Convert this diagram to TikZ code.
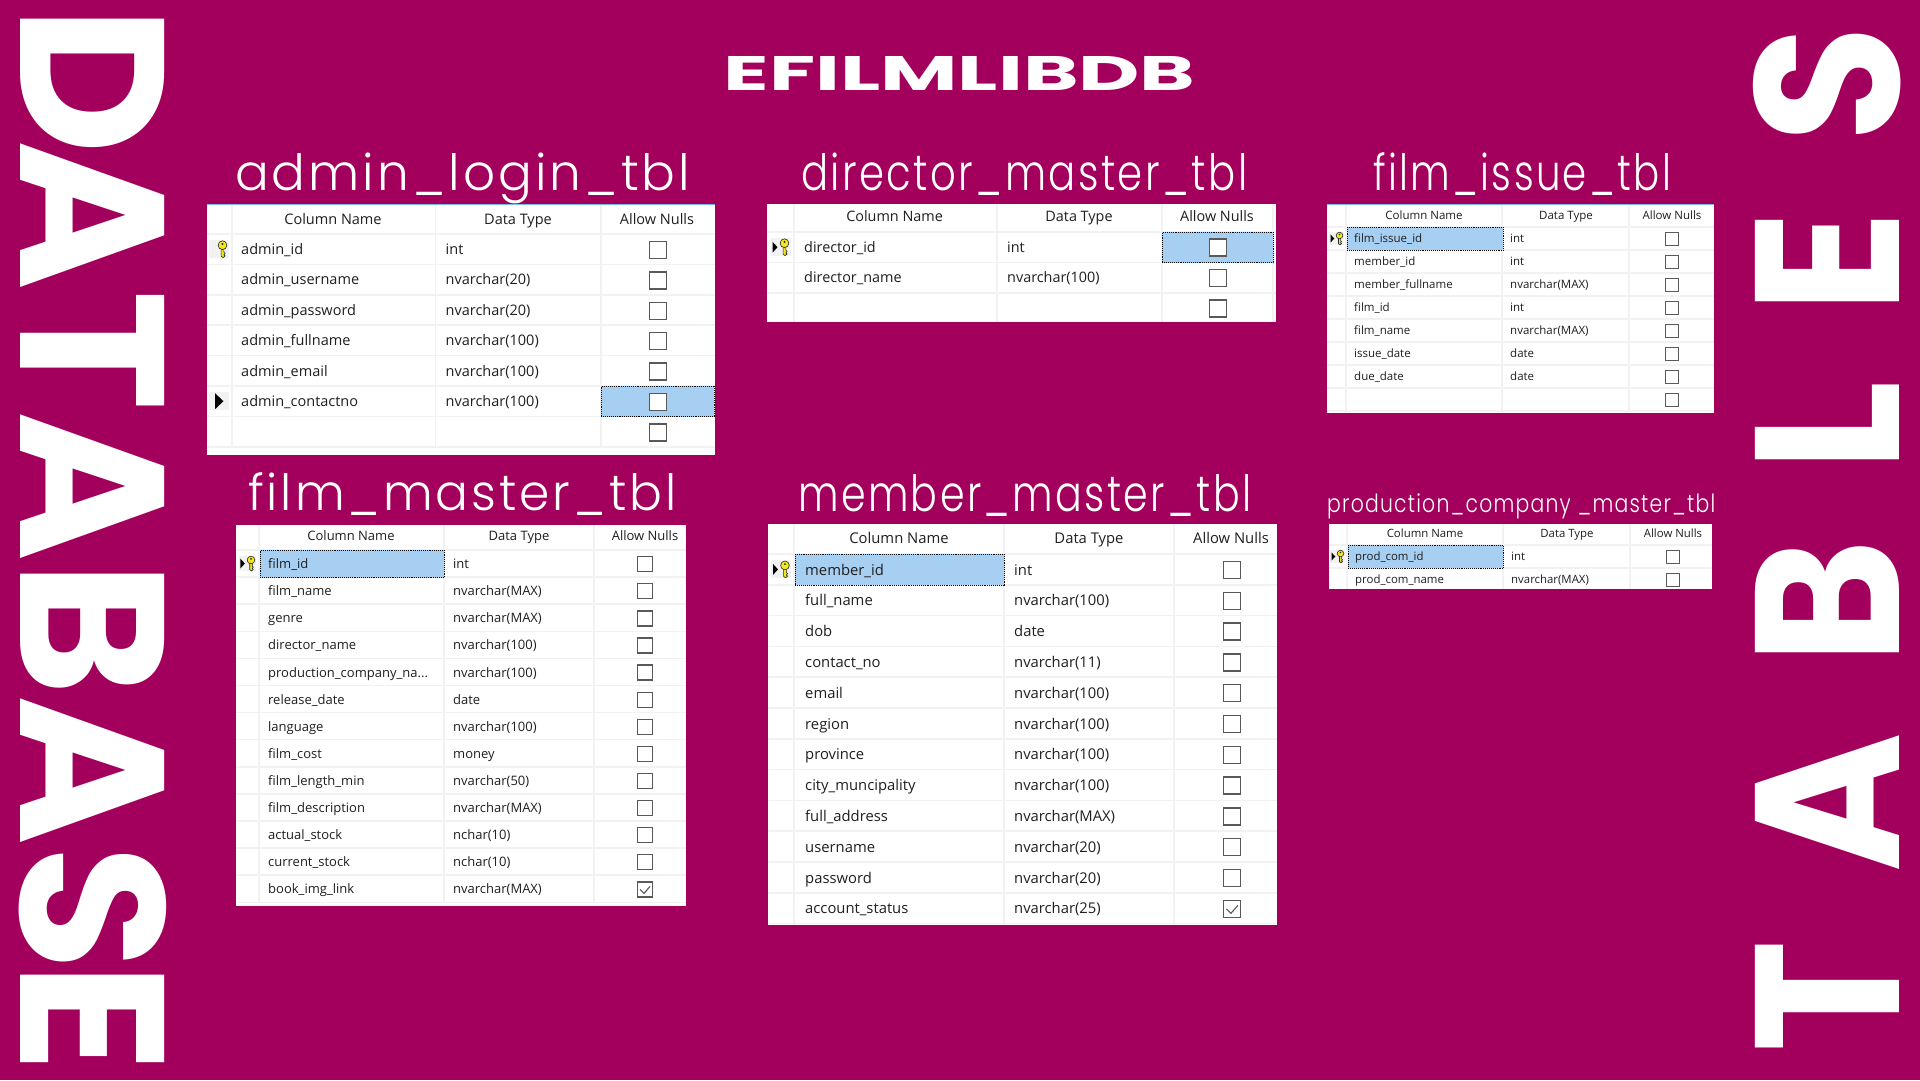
\documentclass[tikz,border=0pt]{standalone}
\usepackage{fontspec}
\usepackage{graphicx}
\usepackage{xcolor}
\usetikzlibrary{calc}
\setmainfont{Poppins}
\newfontfamily\tablefamily{Open Sans}
\newfontfamily\headfamily[LetterSpace=6]{Poppins Light}
\newfontfamily\spacedfamily[LetterSpace=36]{Poppins}
\definecolor{pagebg}{HTML}{A3005E}
\definecolor{selblue}{HTML}{A6CFF2}
\definecolor{gridgray}{HTML}{F2F2F2}
\definecolor{topblue}{HTML}{7DBBE8}
\definecolor{keyyellow}{HTML}{F2E81E}
\newcommand{\tblfont}[1]{\tablefamily\fontsize{#1}{#1}\selectfont}
\tikzset{
    tblbg/.style={fill=white, anchor=north west, inner sep=0pt},
    gridline/.style={draw=gridgray, line width=1.5pt},
    topline/.style={draw=topblue, line width=1pt},
    selcell/.style={fill=selblue, draw=black, densely dotted, line width=.9pt, anchor=north west, inner sep=0pt},
    chkbox/.style={draw=black!65, fill=white, line width=1.3pt, inner sep=0pt},
    tickmark/.style={draw=black!65, line width=1.1pt},
    rowtext/.style={anchor=base west, inner sep=0pt, text=black!88},
    hdrtext/.style={anchor=base, inner sep=0pt, text=black!88},
    tblhead/.style={anchor=base west, inner sep=0pt, text=white, font=\headfamily\fontsize{50}{50}\selectfont},
    sidetext/.style={inner sep=0pt, text=white},
    keymark/.pic={
        \fill[gridgray] (-10,-9) rectangle (10,9);
        \draw[fill=keyyellow, draw=black!85, line width=.6pt] (2.6,-2) -- (2.6,7) -- (4.6,8.4) -- (6.6,6.8) -- (5.4,5.6) -- (6.6,4.2) -- (5.4,3) -- (5.4,-2) -- cycle;
        \draw[fill=keyyellow, draw=black!85, line width=.6pt] (4,-4) circle (4.4pt);
        \fill[black!85] (4,-5.3) circle (1.1pt);
    },
    arrowmark/.pic={
        \fill[gridgray] (-10,-9) rectangle (10,9);
        \fill[black] (-3.5,-8) -- (5,0) -- (-3.5,8) -- cycle;
    },
    bothmark/.pic={
        \fill[gridgray] (-10,-9) rectangle (10,9);
        \fill[black] (-8,-5.5) -- (-3,0) -- (-8,5.5) -- cycle;
        \draw[fill=keyyellow, draw=black!85, line width=.6pt] (2.6,-2) -- (2.6,7) -- (4.6,8.4) -- (6.6,6.8) -- (5.4,5.6) -- (6.6,4.2) -- (5.4,3) -- (5.4,-2) -- cycle;
        \draw[fill=keyyellow, draw=black!85, line width=.6pt] (4,-4) circle (4.4pt);
        \fill[black!85] (4,-5.3) circle (1.1pt);
    }
}
\begin{document}
\begin{tikzpicture}[x=1pt, y=-1pt]
    \fill[pagebg] (0,0) rectangle (1920,1080);
    \useasboundingbox (0,0) rectangle (1920,1080);

    % title and the two side words
    \node[sidetext] (title) at (959.5,73) {\resizebox{472pt}{34pt}{\bfseries EFILMLIBDB}};
    \node[sidetext, rotate=-90] (database) at (93,539.5) {\resizebox{1064pt}{146pt}{\bfseries D\kern-.7pt ATABAS\kern-.4pt E}};
    \node[sidetext, rotate=90] (tables) at (1827,539.5) {\resizebox{1025pt}{146pt}{\spacedfamily\bfseries TABLES}};

    % admin_login_tbl
    \node[tblhead] (adminhead) at (235,190.7) {\resizebox{455pt}{\height}{admin\_login\_tbl}};
    \node[tblbg, minimum width=508pt, minimum height=251pt] (adminbg) at (207,204) {};
    \draw[topline] (207,204) -- (715,204);
    \foreach \cx in {232,435.5,601} \draw[gridline] (\cx,205) -- (\cx,446);
    \foreach \i in {0,...,7} \draw[gridline] (207,234+30.4*\i) -- (715,234+30.4*\i);
    \node[selcell, minimum width=113pt, minimum height=30.4pt] (adminsel) at (601,386) {};
    \node[hdrtext, font=\tblfont{14.5}] (adminh1) at (333,224.2) {Column Name};
    \node[hdrtext, font=\tblfont{14.5}] (adminh2) at (518,224.2) {Data Type};
    \node[hdrtext, font=\tblfont{14.5}] (adminh3) at (657,224.2) {Allow Nulls};
    \foreach \n/\t [count=\i from 0] in {admin\_id/int, admin\_username/nvarchar(20), admin\_password/nvarchar(20), admin\_fullname/nvarchar(100), admin\_email/nvarchar(100), admin\_contactno/nvarchar(100)} {
        \node[rowtext, font=\tblfont{14.5}] (adminname\i) at (241,254.4+30.4*\i) {\n};
        \node[rowtext, font=\tblfont{14.5}] (admintype\i) at (445.5,254.4+30.4*\i) {\t};
    }
    \foreach \i in {0,...,6} \node[chkbox, minimum size=17pt] (adminchk\i) at (658,250+30.4*\i) {};
    \pic at (218.5,249.2) {keymark};
    \pic at (218.5,401.2) {arrowmark};

    % director_master_tbl
    \node[tblhead] (dirhead) at (801,190.7) {\resizebox{446pt}{\height}{director\_master\_tbl}};
    \node[tblbg, minimum width=509pt, minimum height=118pt] (dirbg) at (767,204) {};
    \foreach \cx in {794,997,1162,1273} \draw[gridline] (\cx,204) -- (\cx,322);
    \foreach \i in {0,...,2} \draw[gridline] (767,232+30.4*\i) -- (1276,232+30.4*\i);
    \node[selcell, minimum width=111pt, minimum height=30.4pt] (dirsel) at (1162,232) {};
    \node[hdrtext, font=\tblfont{14.4}] (dirh1) at (894.6,221.9) {Column Name};
    \node[hdrtext, font=\tblfont{14.4}] (dirh2) at (1079,221.9) {Data Type};
    \node[hdrtext, font=\tblfont{14.4}] (dirh3) at (1217,221.9) {Allow Nulls};
    \foreach \n/\t [count=\i from 0] in {director\_id/int, director\_name/nvarchar(100)} {
        \node[rowtext, font=\tblfont{14.4}] (dirname\i) at (804,252.4+30.4*\i) {\n};
        \node[rowtext, font=\tblfont{14.4}] (dirtype\i) at (1007,252.4+30.4*\i) {\t};
    }
    \foreach \i in {0,...,2} \node[chkbox, minimum size=17pt] (dirchk\i) at (1218,247.6+30.4*\i) {};
    \pic at (780.5,247.2) {bothmark};

    % film_issue_tbl
    \node[tblhead] (issuehead) at (1373,190.7) {\resizebox{298pt}{\height}{film\_issue\_tbl}};
    \node[tblbg, minimum width=387pt, minimum height=209pt] (issuebg) at (1327,204) {};
    \draw[topline] (1327,204) -- (1714,204);
    \foreach \cx in {1346,1502,1629} \draw[gridline] (\cx,205) -- (\cx,411);
    \foreach \i in {0,...,8} \draw[gridline] (1327,227+23*\i) -- (1714,227+23*\i);
    \node[selcell, minimum width=156pt, minimum height=23pt] (issuesel) at (1347,227) {};
    \node[hdrtext, font=\tblfont{11.5}] (issueh1) at (1424,219.1) {Column Name};
    \node[hdrtext, font=\tblfont{11.5}] (issueh2) at (1566,219.1) {Data Type};
    \node[hdrtext, font=\tblfont{11.5}] (issueh3) at (1672,219.1) {Allow Nulls};
    \foreach \n/\t [count=\i from 0] in {film\_issue\_id/int, member\_id/int, member\_fullname/nvarchar(MAX), film\_id/int, film\_name/nvarchar(MAX), issue\_date/date, due\_date/date} {
        \node[rowtext, font=\tblfont{11.5}] (issuename\i) at (1354,242.9+23*\i) {\n};
        \node[rowtext, font=\tblfont{11.5}] (issuetype\i) at (1510,242.9+23*\i) {\t};
    }
    \foreach \i in {0,...,7} \node[chkbox, minimum size=13pt] (issuechk\i) at (1672,239+23*\i) {};
    \pic[scale=.75] at (1336.5,238.5) {bothmark};

    % film_master_tbl
    \node[tblhead] (filmhead) at (248,510.7) {\resizebox{428pt}{\height}{film\_master\_tbl}};
    \node[tblbg, minimum width=450pt, minimum height=381pt] (filmbg) at (236,525) {};
    \foreach \cx in {259,444,594} \draw[gridline] (\cx,525) -- (\cx,902);
    \foreach \i in {0,...,13} \draw[gridline] (236,550+27.1*\i) -- (686,550+27.1*\i);
    \node[selcell, minimum width=184pt, minimum height=27.1pt] (filmsel) at (260,550) {};
    \node[hdrtext, font=\tblfont{13}] (filmh1) at (351,540.7) {Column Name};
    \node[hdrtext, font=\tblfont{13}] (filmh2) at (519,540.7) {Data Type};
    \node[hdrtext, font=\tblfont{13}] (filmh3) at (645,540.7) {Allow Nulls};
    \foreach \n/\t [count=\i from 0] in {film\_id/int, film\_name/nvarchar(MAX), genre/nvarchar(MAX), director\_name/nvarchar(100), {production\_company\_na...}/nvarchar(100), release\_date/date, language/nvarchar(100), film\_cost/money, film\_length\_min/nvarchar(50), film\_description/nvarchar(MAX), actual\_stock/nchar(10), current\_stock/nchar(10), book\_img\_link/nvarchar(MAX)} {
        \node[rowtext, font=\tblfont{13}] (filmname\i) at (268,568.6+27.1*\i) {\n};
        \node[rowtext, font=\tblfont{13}] (filmtype\i) at (453,568.6+27.1*\i) {\t};
    }
    \foreach \i in {0,...,12} \node[chkbox, minimum size=15pt] (filmchk\i) at (645,564.2+27.1*\i) {};
    \draw[tickmark] ($(filmchk12)+(-5,0)$) -- ++(4,4) -- ++(6,-7);
    \pic[scale=.88] at (247.5,563.5) {bothmark};

    % member_master_tbl
    \node[tblhead] (memhead) at (798,511) {\resizebox{453pt}{\height}{member\_master\_tbl}};
    \node[tblbg, minimum width=509pt, minimum height=401pt] (membg) at (768,524) {};
    \foreach \cx in {794,1004,1174} \draw[gridline] (\cx,524) -- (\cx,925);
    \foreach \i in {0,...,12} \draw[gridline] (768,554+30.8*\i) -- (1277,554+30.8*\i);
    \node[selcell, minimum width=209pt, minimum height=30.8pt] (memsel) at (795,554) {};
    \node[hdrtext, font=\tblfont{14.8}] (memh1) at (899,543.3) {Column Name};
    \node[hdrtext, font=\tblfont{14.8}] (memh2) at (1089,543.3) {Data Type};
    \node[hdrtext, font=\tblfont{14.8}] (memh3) at (1231,543.3) {Allow Nulls};
    \foreach \n/\t [count=\i from 0] in {member\_id/int, full\_name/nvarchar(100), dob/date, contact\_no/nvarchar(11), email/nvarchar(100), region/nvarchar(100), province/nvarchar(100), city\_muncipality/nvarchar(100), full\_address/nvarchar(MAX), username/nvarchar(20), password/nvarchar(20), account\_status/nvarchar(25)} {
        \node[rowtext, font=\tblfont{14.8}] (memname\i) at (805,575+30.8*\i) {\n};
        \node[rowtext, font=\tblfont{14.8}] (memtype\i) at (1014,575+30.8*\i) {\t};
    }
    \foreach \i in {0,...,11} \node[chkbox, minimum size=17pt] (memchk\i) at (1232,570+30.8*\i) {};
    \draw[tickmark] ($(memchk11)+(-5.5,0)$) -- ++(4.5,4.5) -- ++(7,-8);
    \pic at (781,569.4) {bothmark};

    % production_company _master_tbl
    \node[tblhead, font=\headfamily\fontsize{25}{25}\selectfont] (prodhead) at (1327,512) {\resizebox{388pt}{\height}{production\_company \_master\_tbl}};
    \node[tblbg, minimum width=383pt, minimum height=65pt] (prodbg) at (1329,524) {};
    \foreach \cx in {1347,1503,1630} \draw[gridline] (\cx,524) -- (\cx,589);
    \foreach \i in {0,1} \draw[gridline] (1329,545+23*\i) -- (1712,545+23*\i);
    \node[selcell, minimum width=155pt, minimum height=23pt] (prodsel) at (1348,545) {};
    \node[hdrtext, font=\tblfont{11.4}] (prodh1) at (1425,537.8) {Column Name};
    \node[hdrtext, font=\tblfont{11.4}] (prodh2) at (1567,537.8) {Data Type};
    \node[hdrtext, font=\tblfont{11.4}] (prodh3) at (1673,537.8) {Allow Nulls};
    \foreach \n/\t [count=\i from 0] in {prod\_com\_id/int, prod\_com\_name/nvarchar(MAX)} {
        \node[rowtext, font=\tblfont{11.4}] (prodname\i) at (1355,560.9+23*\i) {\n};
        \node[rowtext, font=\tblfont{11.4}] (prodtype\i) at (1511,560.9+23*\i) {\t};
    }
    \foreach \i in {0,1} \node[chkbox, minimum size=13pt] (prodchk\i) at (1673,557+23*\i) {};
    \pic[scale=.75] at (1337.5,556.5) {bothmark};
\end{tikzpicture}
\end{document}
